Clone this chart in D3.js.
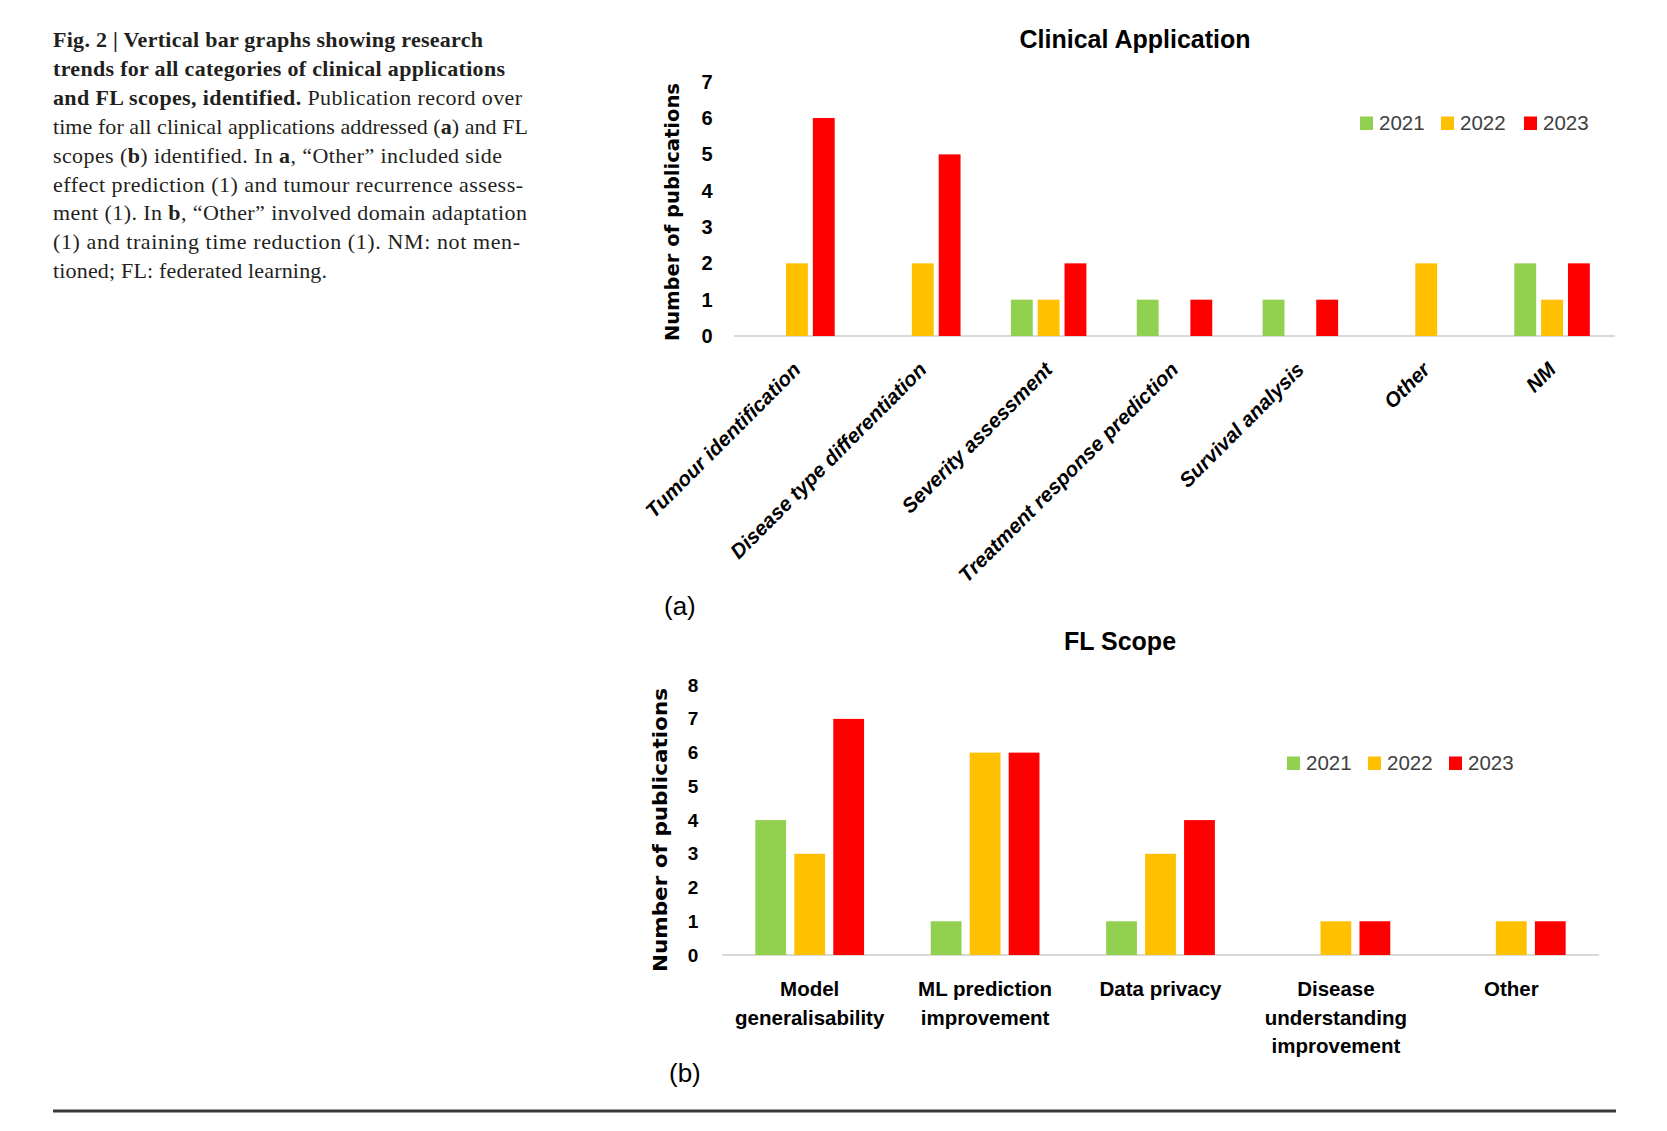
<!DOCTYPE html>
<html>
<head>
<meta charset="utf-8">
<script src="https://cdn.jsdelivr.net/npm/d3@7"></script>
<style>
  html, body { margin: 0; padding: 0; background: #fff; }
  svg { display: block; }
</style>
</head>
<body>
<svg id="fig" width="1667" height="1131"></svg>
<script>
// ---------------- DATA ----------------
const years = ["2021", "2022", "2023"];
const yearColors = ["#92D050", "#FFC000", "#FF0000"];

const clinicalCategories = [
  "Tumour identification", "Disease type differentiation", "Severity assessment",
  "Treatment response prediction", "Survival analysis", "Other", "NM"
];
const clinical2021 = [0, 0, 1, 1, 1, 0, 2];
const clinical2022 = [2, 2, 1, 0, 0, 2, 1];
const clinical2023 = [6, 5, 2, 1, 1, 0, 2];
const clinicalTicks = [0, 1, 2, 3, 4, 5, 6, 7];

const scopeCategories = [
  ["Model", "generalisability"], ["ML prediction", "improvement"], ["Data privacy"],
  ["Disease", "understanding", "improvement"], ["Other"]
];
const scope2021 = [4, 1, 1, 0, 0];
const scope2022 = [3, 6, 3, 1, 1];
const scope2023 = [7, 6, 4, 1, 1];
const scopeTicks = [0, 1, 2, 3, 4, 5, 6, 7, 8];

const captionLines = [
  [["Fig. 2 | Vertical bar graphs showing research", true]],
  [["trends for all categories of clinical applications", true]],
  [["and FL scopes, identified.", true], [" Publication record over", false]],
  [["time for all clinical applications addressed (", false], ["a", true], [") and FL", false]],
  [["scopes (", false], ["b", true], [") identified. In ", false], ["a", true], [", \u201COther\u201D included side", false]],
  [["effect prediction (1) and tumour recurrence assess-", false]],
  [["ment (1). In ", false], ["b", true], [", \u201COther\u201D involved domain adaptation", false]],
  [["(1) and training time reduction (1). NM: not men-", false]],
  [["tioned; FL: federated learning.", false]]
];

// ---------------- LAYOUT ----------------
const svg = d3.select("#fig");
const SANS = "'Liberation Sans', Arial, sans-serif";

// caption
const capRight = [483, 505, 522, 528, 502, 523, 527, 520, 327];
const capG = svg.append("g");
captionLines.forEach((segs, i) => {
  const t = capG.append("text")
    .attr("x", 53).attr("y", 47 + i * 28.9)
    .attr("font-family", "'Liberation Serif', 'Times New Roman', serif")
    .attr("font-size", 22)
    .attr("fill", "#231f20")
    .attr("textLength", capRight[i] - 53)
    .attr("lengthAdjust", "spacing");
  segs.forEach(([s, b]) => t.append("tspan").attr("font-weight", b ? "bold" : "normal").text(s));
});

function drawPanel(o) {
  const g = svg.append("g");
  const series = [o.v2021, o.v2022, o.v2023];
  const keys = o.categories.map((c, i) => i);
  const x0 = d3.scaleBand().domain(keys).range([o.x0, o.x1]).paddingInner(o.pad).paddingOuter(o.pad / 2);
  const x1 = d3.scaleBand().domain(years).range([0, x0.bandwidth()]).paddingInner(o.innerPad).paddingOuter(0);
  const y = d3.scaleLinear().domain([0, o.ymax]).range([o.y0, o.y0 - o.ymax * o.unit]);

  // title
  g.append("text").attr("x", o.titleX).attr("y", o.titleY)
    .attr("text-anchor", "middle").attr("font-family", SANS).attr("font-weight", "bold")
    .attr("font-size", 25).attr("fill", "#000").text(o.title);

  // baseline
  g.append("line").attr("x1", o.x0).attr("x2", o.x1).attr("y1", y(0)).attr("y2", y(0))
    .attr("stroke", "#d9d9d9").attr("stroke-width", 2);

  // y axis (labels only)
  const yAxis = d3.axisLeft(y).tickValues(o.ticks).tickSize(0).tickPadding(0).tickFormat(d3.format("d"));
  const ya = g.append("g").attr("transform", `translate(${o.tickX},0)`).call(yAxis);
  ya.select(".domain").remove();
  ya.selectAll("text").attr("font-family", SANS).attr("font-weight", "bold")
    .attr("font-size", o.tickFont).attr("fill", "#000").attr("text-anchor", "middle");

  // y title
  g.append("text")
    .attr("transform", `translate(${o.ytX},${o.ytY}) rotate(-90)`)
    .attr("text-anchor", "middle").attr("dy", "0.35em")
    .attr("font-family", "'DejaVu Sans', Verdana, sans-serif").attr("font-weight", "bold")
    .attr("font-size", o.ytFont).attr("fill", "#000")
    .attr("textLength", o.ytLen).attr("lengthAdjust", "spacingAndGlyphs")
    .text("Number of publications");

  // bars
  const grp = g.selectAll("g.cat").data(keys).join("g").attr("class", "cat")
    .attr("transform", d => `translate(${x0(d)},0)`);
  grp.selectAll("rect").data(d => years.map((yr, j) => ({ yr, j, v: series[j][d] })).filter(e => e.v > 0))
    .join("rect")
    .attr("x", e => x1(e.yr)).attr("width", x1.bandwidth())
    .attr("y", e => y(e.v)).attr("height", e => y(0) - y(e.v))
    .attr("fill", e => yearColors[e.j]);

  // category labels
  if (o.rotated) {
    keys.forEach(k => {
      const cx = x0(k) + x0.bandwidth() / 2 + 5;
      g.append("text").attr("transform", `translate(${cx},${y(0) + 35}) rotate(-45)`)
        .attr("text-anchor", "end").attr("font-family", SANS).attr("font-weight", "bold")
        .attr("font-style", "italic").attr("font-size", 20.5).attr("fill", "#000")
        .text(o.categories[k]);
    });
  } else {
    keys.forEach(k => {
      const cx = x0(k) + x0.bandwidth() / 2;
      const t = g.append("text").attr("text-anchor", "middle").attr("font-family", SANS)
        .attr("font-weight", "bold").attr("font-size", 20.5).attr("fill", "#000");
      o.categories[k].forEach((ln, li) => t.append("tspan").attr("x", cx).attr("y", y(0) + 41 + li * 28.5).text(ln));
    });
  }

  // legend
  const lg = g.append("g");
  years.forEach((yr, j) => {
    lg.append("rect").attr("x", o.legX[j]).attr("y", o.legY - 13.5).attr("width", 13).attr("height", 13.5)
      .attr("fill", yearColors[j]);
    lg.append("text").attr("x", o.legX[j] + 19).attr("y", o.legY)
      .attr("font-family", SANS).attr("font-size", 20.5).attr("fill", "#404040").text(yr);
  });

  // panel letter
  g.append("text").attr("x", o.letterX).attr("y", o.letterY)
    .attr("font-family", SANS).attr("font-size", 26).attr("fill", "#000").text(o.letter);
}

drawPanel({
  title: "Clinical Application", titleX: 1135, titleY: 48,
  categories: clinicalCategories, v2021: clinical2021, v2022: clinical2022, v2023: clinical2023,
  x0: 734, x1: 1615, pad: 0.4, innerPad: 0.185,
  y0: 336, unit: 36.33, ymax: 7, ticks: clinicalTicks,
  tickX: 707, tickFont: 20,
  ytX: 672, ytY: 212, ytFont: 19, ytLen: 258,
  rotated: true,
  legX: [1360, 1441, 1524], legY: 130,
  letter: "(a)", letterX: 664, letterY: 615
});

drawPanel({
  title: "FL Scope", titleX: 1120, titleY: 650,
  categories: scopeCategories, v2021: scope2021, v2022: scope2022, v2023: scope2023,
  x0: 722, x1: 1599, pad: 0.38, innerPad: 0.21,
  y0: 955, unit: 33.73, ymax: 8, ticks: scopeTicks,
  tickX: 693, tickFont: 19,
  ytX: 660, ytY: 830, ytFont: 20, ytLen: 284,
  rotated: false,
  legX: [1287, 1368, 1449], legY: 770,
  letter: "(b)", letterX: 669, letterY: 1082
});

// bottom rule
svg.append("line").attr("x1", 53).attr("x2", 1616).attr("y1", 1111).attr("y2", 1111)
  .attr("stroke", "#3a3a3a").attr("stroke-width", 3);
</script>
</body>
</html>
